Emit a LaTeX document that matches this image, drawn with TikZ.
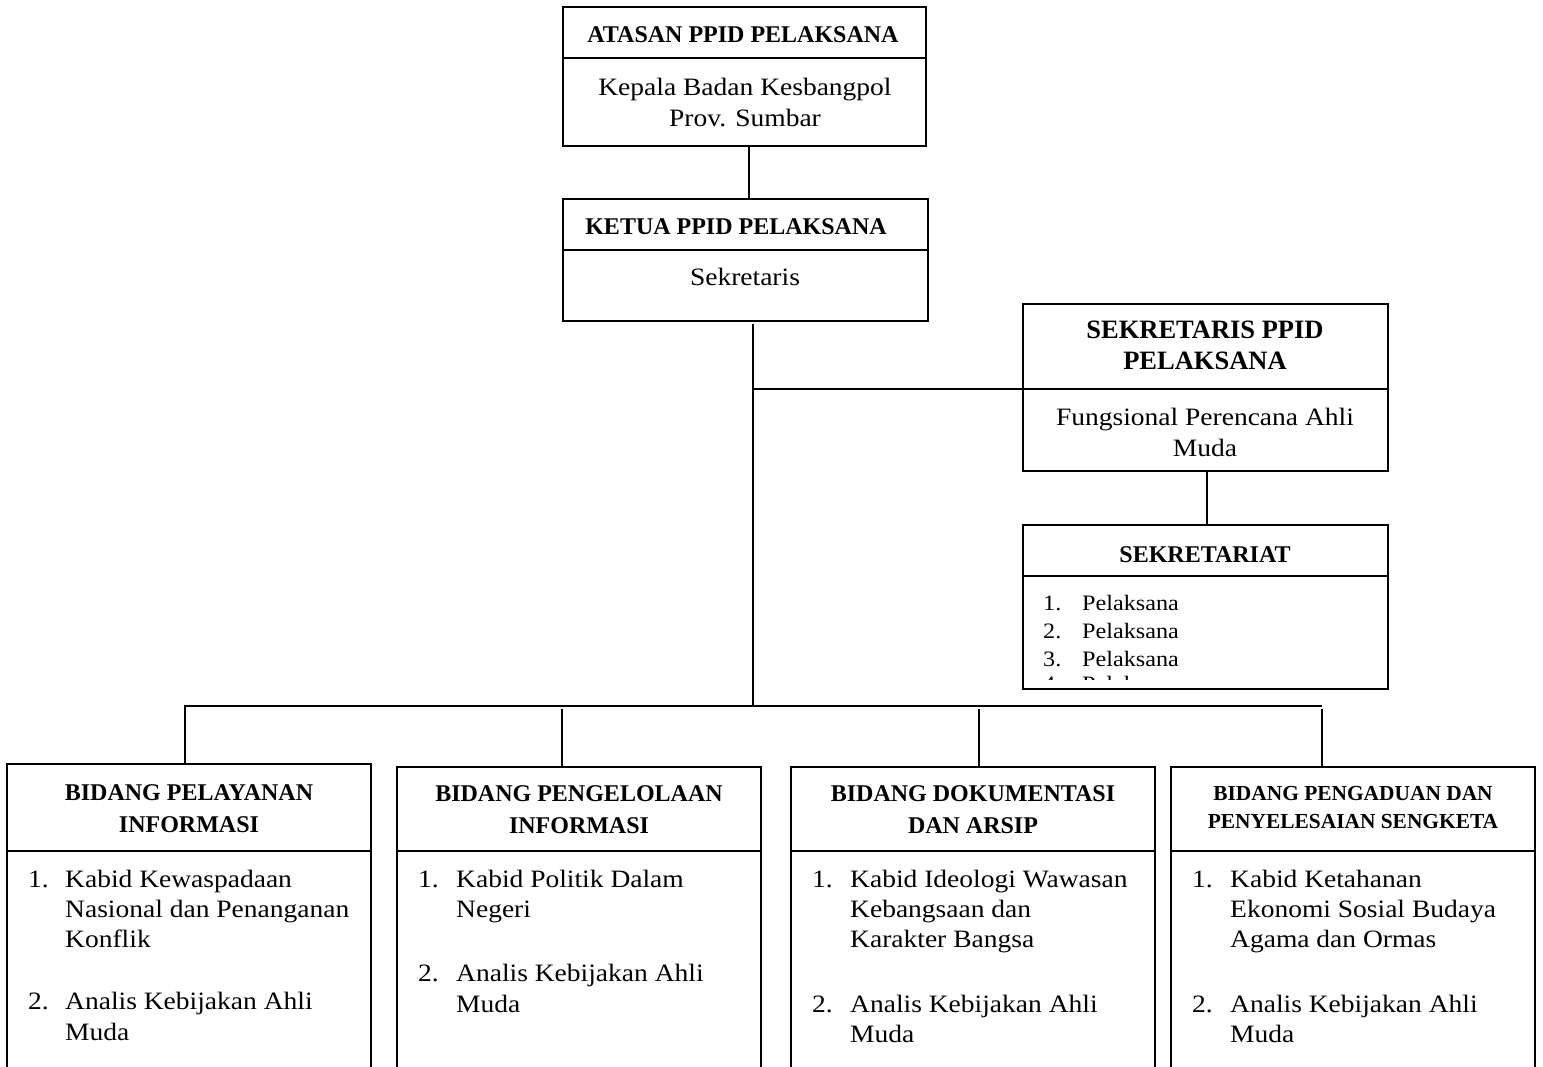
\documentclass[tikz,border=0pt]{standalone}
\usepackage{fontspec}
\setmainfont{Liberation Serif}
\newfontfamily\bodyf[FakeStretch=1.1]{Liberation Serif}
\begin{document}
\begin{tikzpicture}[x=1pt,y=-1pt,
  box/.style={draw, line width=2pt, inner sep=0pt, outer sep=0pt, anchor=north west},
  conn/.style={line width=2pt},
  hdr/.style={font=\bfseries\fontsize{24}{30}\selectfont, anchor=base, inner sep=0pt},
  hdrbig/.style={hdr, font=\bfseries\fontsize{26.5}{30}\selectfont},
  hdrsmall/.style={hdr, font=\bfseries\fontsize{21.4}{28}\selectfont},
  txt/.style={font=\bodyf\fontsize{25}{30}\selectfont, anchor=base west, inner sep=0pt},
  ctxt/.style={txt, anchor=base},
  stxt/.style={font=\bodyf\fontsize{22}{28}\selectfont, anchor=base west, inner sep=0pt}]
\useasboundingbox (0,0) rectangle (1543,1067);
\clip (0,0) rectangle (1543,1067);
\fill[white] (0,0) rectangle (1543,1067);

% boxes
\node[box, minimum width=363pt, minimum height=51pt] (atasanH) at (563,7) {};
\node[box, minimum width=363pt, minimum height=88pt] (atasanB) at (563,58) {};
\node[box, minimum width=365pt, minimum height=51pt] (ketuaH) at (563,199) {};
\node[box, minimum width=365pt, minimum height=71pt] (ketuaB) at (563,250) {};
\node[box, minimum width=365pt, minimum height=85pt] (sekH) at (1023,304) {};
\node[box, minimum width=365pt, minimum height=82pt] (sekB) at (1023,389) {};
\node[box, minimum width=365pt, minimum height=51pt] (sekrH) at (1023,525) {};
\node[box, minimum width=365pt, minimum height=113pt] (sekrB) at (1023,576) {};
\node[box, minimum width=364pt, minimum height=87pt] (b1H) at (7,764) {};
\node[box, minimum width=364pt, minimum height=240pt] (b1B) at (7,851) {};
\node[box, minimum width=364pt, minimum height=84pt] (b2H) at (397,767) {};
\node[box, minimum width=364pt, minimum height=240pt] (b2B) at (397,851) {};
\node[box, minimum width=364pt, minimum height=84pt] (b3H) at (791,767) {};
\node[box, minimum width=364pt, minimum height=240pt] (b3B) at (791,851) {};
\node[box, minimum width=364pt, minimum height=84pt] (b4H) at (1171,767) {};
\node[box, minimum width=364pt, minimum height=240pt] (b4B) at (1171,851) {};

% top texts
\node[hdr] (tA) at (743,43) {ATASAN PPID PELAKSANA};
\node[ctxt] (tA1) at (745,96) {Kepala Badan Kesbangpol};
\node[ctxt] (tA2) at (745,127) {Prov. Sumbar};
\node[hdr] (tK) at (736,235) {KETUA PPID PELAKSANA};
\node[ctxt] (tK1) at (745,286) {Sekretaris};
\node[hdrbig] (tS1) at (1205,339) {SEKRETARIS PPID};
\node[hdrbig] (tS2) at (1205,370) {PELAKSANA};
\node[ctxt] (tS3) at (1205,425) {Fungsional Perencana Ahli};
\node[ctxt] (tS4) at (1205,456) {Muda};
\node[hdr] (tR) at (1205,562) {SEKRETARIAT};
\foreach \n/\y in {1/610,2/638,3/666}{
  \node[stxt] (rn\n) at (1043,\y) {\n.};
  \node[stxt] (rt\n) at (1082,\y) {Pelaksana};
}
\begin{scope}
  \clip (1024,577) rectangle (1387,679);
  \node[stxt] (rn4) at (1043,691) {4.};
  \node[stxt] (rt4) at (1082,691) {Pelaksana};
\end{scope}

% bottom headers
\node[hdr] (h1a) at (189,800) {BIDANG PELAYANAN};
\node[hdr] (h1b) at (189,832) {INFORMASI};
\node[hdr] (h2a) at (579,801) {BIDANG PENGELOLAAN};
\node[hdr] (h2b) at (579,833) {INFORMASI};
\node[hdr] (h3a) at (973,801) {BIDANG DOKUMENTASI};
\node[hdr] (h3b) at (973,833) {DAN ARSIP};
\node[hdrsmall] (h4a) at (1353,800) {BIDANG PENGADUAN DAN};
\node[hdrsmall] (h4b) at (1353,828) {PENYELESAIAN SENGKETA};

% bottom lists
\node[txt] (n11) at (28,887) {1.};
\node[txt] (l11) at (65,887) {Kabid Kewaspadaan};
\node[txt] (l12) at (65,917) {Nasional dan Penanganan};
\node[txt] (l13) at (65,947) {Konflik};
\node[txt] (n12) at (28,1009) {2.};
\node[txt] (l14) at (65,1009) {Analis Kebijakan Ahli};
\node[txt] (l15) at (65,1040) {Muda};

\node[txt] (n21) at (418,887) {1.};
\node[txt] (l21) at (456,887) {Kabid Politik Dalam};
\node[txt] (l22) at (456,917) {Negeri};
\node[txt] (n22) at (418,981) {2.};
\node[txt] (l23) at (456,981) {Analis Kebijakan Ahli};
\node[txt] (l24) at (456,1012) {Muda};

\node[txt] (n31) at (812,887) {1.};
\node[txt] (l31) at (850,887) {Kabid Ideologi Wawasan};
\node[txt] (l32) at (850,917) {Kebangsaan dan};
\node[txt] (l33) at (850,947) {Karakter Bangsa};
\node[txt] (n32) at (812,1012) {2.};
\node[txt] (l34) at (850,1012) {Analis Kebijakan Ahli};
\node[txt] (l35) at (850,1042) {Muda};

\node[txt] (n41) at (1192,887) {1.};
\node[txt] (l41) at (1230,887) {Kabid Ketahanan};
\node[txt] (l42) at (1230,917) {Ekonomi Sosial Budaya};
\node[txt] (l43) at (1230,947) {Agama dan Ormas};
\node[txt] (n42) at (1192,1012) {2.};
\node[txt] (l44) at (1230,1012) {Analis Kebijakan Ahli};
\node[txt] (l45) at (1230,1042) {Muda};

% connectors
\coordinate (vA) at (749,0);
\draw[conn] (vA |- atasanB.south) -- (vA |- ketuaH.north);
\coordinate (trunkTop) at (753,324);
\coordinate (trunkBot) at (753,706);
\draw[conn] (trunkTop) -- (trunkBot);
\draw[conn] (trunkTop |- sekH.south west) -- (sekH.south west);
\coordinate (vS) at (1207,0);
\draw[conn] (vS |- sekB.south) -- (vS |- sekrH.north);
\coordinate (busL) at (185,706);
\coordinate (busR) at (1322,706);
\draw[conn] (busL |- b1H.north) -- (busL) -- (busR);
\coordinate (v2) at (562,709);
\coordinate (v3) at (979,709);
\coordinate (v4) at (1322,709);
\draw[conn] (v2) -- (v2 |- b2H.north);
\draw[conn] (v3) -- (v3 |- b3H.north);
\draw[conn] (v4) -- (v4 |- b4H.north);
\end{tikzpicture}
\end{document}
